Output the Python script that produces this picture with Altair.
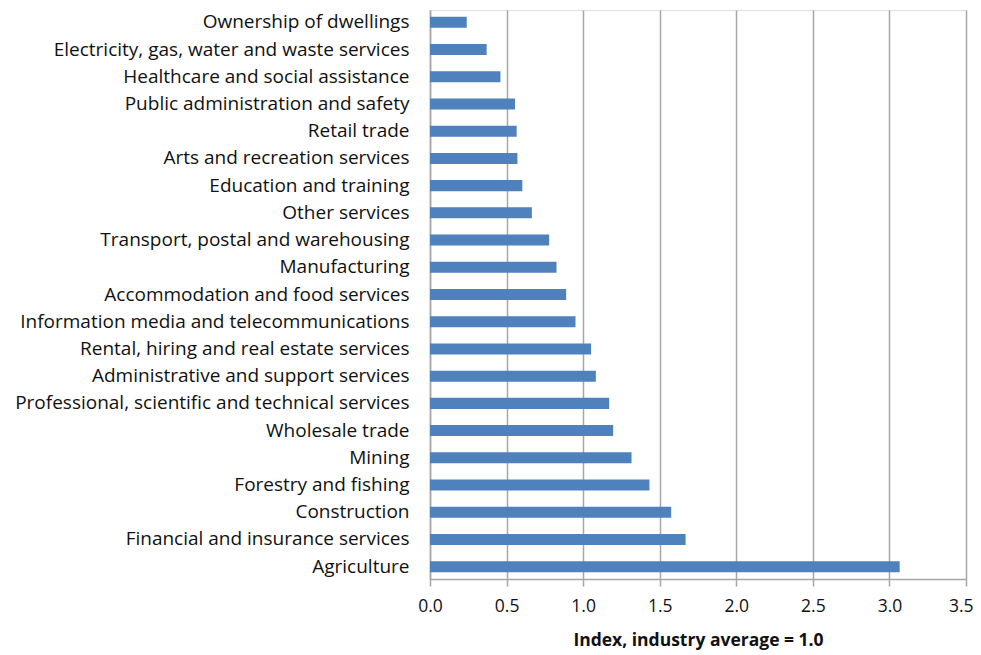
import altair as alt
import pandas as pd

industries = [
    "Ownership of dwellings",
    "Electricity, gas, water and waste services",
    "Healthcare and social assistance",
    "Public administration and safety",
    "Retail trade",
    "Arts and recreation services",
    "Education and training",
    "Other services",
    "Transport, postal and warehousing",
    "Manufacturing",
    "Accommodation and food services",
    "Information media and telecommunications",
    "Rental, hiring and real estate services",
    "Administrative and support services",
    "Professional, scientific and technical services",
    "Wholesale trade",
    "Mining",
    "Forestry and fishing",
    "Construction",
    "Financial and insurance services",
    "Agriculture",
]
index_values = [0.24, 0.37, 0.46, 0.555, 0.566, 0.571, 0.603, 0.665, 0.778, 0.826,
                0.889, 0.95, 1.052, 1.083, 1.17, 1.196, 1.316, 1.433, 1.575, 1.669, 3.067]
x_ticks = [0.0, 0.5, 1.0, 1.5, 2.0, 2.5, 3.0, 3.5]

df = pd.DataFrame({"industry": industries, "value": index_values})

FONT = "Open Sans"
GRID = "#a6a6a6"
TXT = "#111111"

chart = alt.Chart(df).mark_bar(color="#4F81BD").encode(
    x=alt.X("value:Q",
            scale=alt.Scale(domain=[0, 3.5], nice=False, zero=True),
            axis=alt.Axis(values=x_ticks, format=".1f",
                          title="Index, industry average = 1.0",
                          titleFontWeight="bold", titleFontSize=17.5, titleFont=FONT,
                          titleColor=TXT, titlePadding=17,
                          labelFont=FONT, labelFontSize=17.5, labelColor=TXT,
                          labelPadding=11, labelFlush=False,
                          labelAlign={"condition": {"test": "datum.value >= 3.5", "value": "right"},
                                      "value": "center"},
                          labelOffset={"condition": {"test": "datum.value >= 3.5", "value": 7},
                                       "value": 0},
                          grid=True, gridColor=GRID, gridWidth=1.5,
                          domainColor=GRID, domainWidth=1.5,
                          tickColor=GRID, tickSize=7, tickWidth=1.5)),
    y=alt.Y("industry:N", sort=industries,
            scale=alt.Scale(paddingInner=0.595, paddingOuter=0.25),
            axis=alt.Axis(title=None, labelFont=FONT, labelFontSize=19,
                          labelColor=TXT, labelPadding=21, labelLimit=500,
                          ticks=False, domainColor=GRID, domainWidth=1.5,
                          grid=False)),
).properties(
    width=536,
    height=569,
    autosize=alt.AutoSizeParams(type="none"),
    padding={"left": 422, "top": 2, "right": 7, "bottom": 76},
).configure_view(stroke=None).configure(background="white")

chart.save("out.html", embed_options={"renderer": "svg", "actions": False})
